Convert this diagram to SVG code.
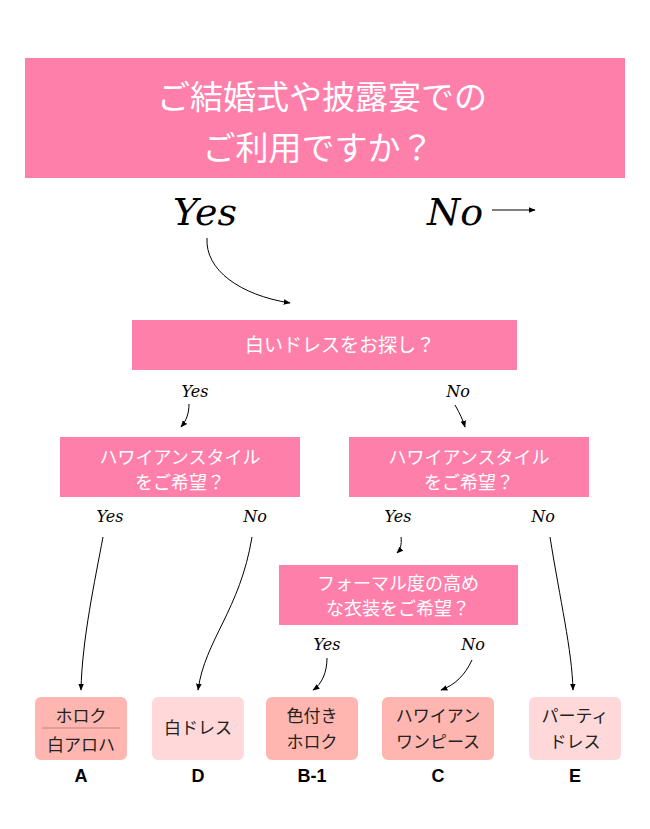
<svg xmlns="http://www.w3.org/2000/svg" width="650" height="829" viewBox="0 0 650 829">
<defs><marker id="ah" viewBox="0 0 10 10" refX="9" refY="5" markerWidth="7" markerHeight="7" orient="auto"><path d="M0,1 L10,5 L0,9 z" fill="#000"/></marker>
<style>
.q{fill:#ff7fab}
.w{fill:#fff;font-family:"Noto Sans CJK JP","Noto Sans",sans-serif;text-anchor:middle}
.k{fill:#222;font-family:"Noto Sans CJK JP","Noto Sans",sans-serif;font-size:17px;text-anchor:middle}
.s{font-family:"DejaVu Serif",serif;font-style:italic;text-anchor:middle;fill:#000}
.l{font-family:"Liberation Sans",sans-serif;font-weight:bold;font-size:18px;text-anchor:middle}
.c{fill:none;stroke:#000;stroke-width:1;marker-end:url(#ah)}
.d{fill:#ffb6b0}.e{fill:#ffd9d9}
</style></defs>
<rect width="650" height="829" fill="#fff"/>
<g id="top"><rect class="q" x="25" y="58" width="600" height="120"/><text class="w" font-size="33" x="322" y="109">ご結婚式や披露宴での</text><text class="w" font-size="33" x="318" y="160">ご利用ですか？</text></g>
<text class="s" font-size="38" x="205" y="225">Yes</text>
<text class="s" font-size="38" x="455" y="225">No</text>
<g id="q1"><rect class="q" x="132" y="320" width="385" height="50"/><text class="w" font-size="19" x="340" y="352">白いドレスをお探し？</text></g>
<g id="q2"><rect class="q" x="60" y="437" width="240" height="60"/><text class="w" font-size="18" x="180" y="464">ハワイアンスタイル</text><text class="w" font-size="18" x="180" y="489">をご希望？</text></g>
<g id="q3"><rect class="q" x="349" y="437" width="240" height="60"/><text class="w" font-size="18" x="469" y="464">ハワイアンスタイル</text><text class="w" font-size="18" x="469" y="489">をご希望？</text></g>
<g id="q4"><rect class="q" x="279" y="565" width="239" height="60"/><text class="w" font-size="18" x="398" y="590">フォーマル度の高め</text><text class="w" font-size="18" x="398" y="615">な衣装をご希望？</text></g>
<g font-size="16"><text class="s" x="195" y="397">Yes</text><text class="s" x="458" y="397">No</text>
<text class="s" x="110" y="522">Yes</text><text class="s" x="255" y="522">No</text><text class="s" x="398" y="522">Yes</text><text class="s" x="543" y="522">No</text>
<text class="s" x="327" y="650">Yes</text><text class="s" x="473" y="650">No</text></g>
<g id="connectors">
<path class="c" d="M492,210 L535,210"/>
<path class="c" d="M207,238 C205,270 240,295 290,303"/>
<path class="c" d="M189,404 C189,414 186,421 181,427"/>
<path class="c" d="M455,405 C460,414 463,420 465,427"/>
<path class="c" d="M103,537 C95,580 82,640 81,690"/>
<path class="c" d="M252,537 C240,610 205,640 198,690"/>
<path class="c" d="M401,537 C402,545 400,550 397,553"/>
<path class="c" d="M550,537 C560,600 572,650 573,690"/>
<path class="c" d="M327,658 C327,672 322,684 313,690"/>
<path class="c" d="M472,660 C465,675 455,685 441,690"/>
</g>
<g id="A"><rect class="d" x="35" y="697" width="92" height="63" rx="6"/><text class="k" x="81" y="722">ホロク</text><line x1="42" y1="728" x2="120" y2="728" stroke="#a77" stroke-width="0.8"/><text class="k" x="81" y="751">白アロハ</text><text class="l" x="81" y="782">A</text></g>
<g id="D"><rect class="e" x="152" y="697" width="92" height="63" rx="6"/><text class="k" x="198" y="734">白ドレス</text><text class="l" x="198" y="782">D</text></g>
<g id="B1"><rect class="d" x="266" y="697" width="92" height="63" rx="6"/><text class="k" x="312" y="722">色付き</text><text class="k" x="312" y="748">ホロク</text><text class="l" x="312" y="782">B-1</text></g>
<g id="C"><rect class="d" x="382" y="697" width="112" height="63" rx="6"/><text class="k" x="438" y="722">ハワイアン</text><text class="k" x="438" y="748">ワンピース</text><text class="l" x="438" y="782">C</text></g>
<g id="E"><rect class="e" x="529" y="697" width="92" height="63" rx="6"/><text class="k" x="575" y="722">パーティ</text><text class="k" x="575" y="748">ドレス</text><text class="l" x="575" y="782">E</text></g>
</svg>
